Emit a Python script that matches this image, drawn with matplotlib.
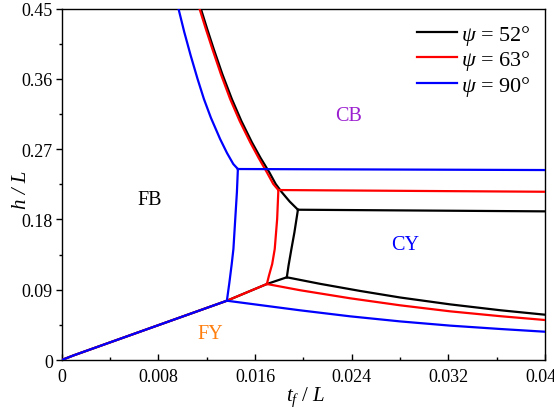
import matplotlib
matplotlib.use("Agg")
import matplotlib.pyplot as plt
from matplotlib.ticker import MultipleLocator, FixedLocator

plt.rcParams['font.family'] = ['Liberation Serif', 'DejaVu Serif']
plt.rcParams['mathtext.fontset'] = 'custom'
plt.rcParams['mathtext.it'] = 'Liberation Serif:italic'
plt.rcParams['mathtext.rm'] = 'Liberation Serif'

# ---- data (t_f/L, h/L) ----
# shared FY boundary (origin to corners)
fy_x = [0.0, 0.0010, 0.01367, 0.01698, 0.01863]
fy_y = [0.0, 0.0060, 0.0759, 0.0973, 0.1059]

# psi = 52 deg (black)
b_up_x = [0.01151, 0.01204, 0.01258, 0.01329, 0.01408, 0.01487, 0.01574, 0.01646,
          0.01718, 0.01771, 0.01822, 0.01887, 0.01955]
b_up_y = [0.45, 0.4237, 0.3981, 0.3661, 0.3341, 0.3059, 0.2787, 0.2586,
          0.2403, 0.2253, 0.2147, 0.2028, 0.1924]
b_hor_x = [0.01955, 0.0400]
b_hor_y = [0.1924, 0.1903]
b_ver_x = [0.01955, 0.01926, 0.01901, 0.01877, 0.01863]
b_ver_y = [0.1924, 0.1635, 0.1421, 0.1207, 0.1059]
b_low_x = [0.01863, 0.02139, 0.0247, 0.02802, 0.03216, 0.0363, 0.0400]
b_low_y = [0.1059, 0.0975, 0.0884, 0.0800, 0.0712, 0.0637, 0.0580]

# psi = 63 deg (red)
r_up_x = [0.0114, 0.01193, 0.01247, 0.01317, 0.01394, 0.01473, 0.0156, 0.0163,
          0.01698, 0.01751, 0.01793]
r_up_y = [0.45, 0.4237, 0.3981, 0.3661, 0.3341, 0.3059, 0.2787, 0.2586,
          0.2403, 0.2253, 0.2176]
r_hor_x = [0.01793, 0.0400]
r_hor_y = [0.2176, 0.2154]
r_ver_x = [0.01793, 0.01783, 0.01763, 0.01742, 0.01715, 0.01698]
r_ver_y = [0.2176, 0.1805, 0.1421, 0.1229, 0.1079, 0.0973]
r_low_x = [0.01698, 0.01974, 0.02388, 0.02802, 0.03216, 0.0363, 0.0400]
r_low_y = [0.0973, 0.0893, 0.0790, 0.0700, 0.0623, 0.0561, 0.0512]

# psi = 90 deg (blue)
u_up_x = [0.00966, 0.01014, 0.01067, 0.01124, 0.01177, 0.01235, 0.01311, 0.01368,
          0.0142, 0.01458]
u_up_y = [0.45, 0.42, 0.39, 0.36, 0.3341, 0.31, 0.2829, 0.265,
          0.2509, 0.2445]
u_hor_x = [0.01458, 0.0400]
u_hor_y = [0.2445, 0.2432]
u_ver_x = [0.01458, 0.0145, 0.01436, 0.01421, 0.01407, 0.01388, 0.01367]
u_ver_y = [0.2445, 0.2150, 0.1800, 0.1421, 0.1229, 0.0995, 0.0759]
u_low_x = [0.01367, 0.01643, 0.01974, 0.02388, 0.02802, 0.03216, 0.0363, 0.0400]
u_low_y = [0.0759, 0.0703, 0.0636, 0.0559, 0.0494, 0.0440, 0.0397, 0.0362]

labels = [r'$\psi$ = 52°', r'$\psi$ = 63°', r'$\psi$ = 90°']
colors = ['black', '#ff0000', '#0000ff']

regions = ['FB', 'CB', 'CY', 'FY']
region_x = [0.00731, 0.0237, 0.02843, 0.01228]
region_y = [0.206, 0.3136, 0.1485, 0.0333]
region_c = ['black', '#9b1fd0', '#0000ff', '#ff7f0e']

fig = plt.figure(figsize=(5.54, 4.10), dpi=100)
ax = fig.add_axes([0.1114, 0.1195, 0.8724, 0.8573])

lw = 1.6
sets = [
    (b_up_x, b_up_y, b_hor_x, b_hor_y, b_ver_x, b_ver_y, b_low_x, b_low_y, 4),
    (r_up_x, r_up_y, r_hor_x, r_hor_y, r_ver_x, r_ver_y, r_low_x, r_low_y, 3),
    (u_up_x, u_up_y, u_hor_x, u_hor_y, u_ver_x, u_ver_y, u_low_x, u_low_y, 2),
]
for i, (ux, uy, hx, hy, vx, vy, lx, ly, nfy) in enumerate(sets):
    c = colors[i]
    kw = dict(color=c, lw=lw, zorder=2 + i, solid_joinstyle='round')
    ax.plot(ux, uy, label=labels[i], **kw)
    ax.plot(hx, hy, **kw)
    ax.plot(vx, vy, **kw)
    ax.plot(lx, ly, **kw)
    ax.plot(fy_x[:nfy + 1], fy_y[:nfy + 1], **kw)

for t, x, y, c in zip(regions, region_x, region_y, region_c):
    ax.text(x, y, t, color=c, fontsize=14.5, ha='center', va='center')

ax.set_xlim(0, 0.040)
ax.set_ylim(0, 0.45)
ax.xaxis.set_major_locator(FixedLocator([0, 0.008, 0.016, 0.024, 0.032, 0.040]))
ax.xaxis.set_minor_locator(MultipleLocator(0.004))
ax.yaxis.set_major_locator(FixedLocator([0, 0.09, 0.18, 0.27, 0.36, 0.45]))
ax.yaxis.set_minor_locator(MultipleLocator(0.045))
ax.set_xticklabels(['0', '0.008', '0.016', '0.024', '0.032', '0.040'])
ax.set_yticklabels(['0', '0.09', '0.18', '0.27', '0.36', '0.45'])
ax.tick_params(axis='x', which='both', direction='in', top=False, labelsize=13, pad=6)
ax.tick_params(axis='y', which='both', direction='out', right=False, labelsize=13, pad=2)
ax.tick_params(which='major', length=4.3, width=1)
ax.tick_params(which='minor', length=2.3, width=1)
for s in ax.spines.values():
    s.set_linewidth(1.0)

ax.set_xlabel(r'$t_f$ / $L$', fontsize=15)
ax.set_ylabel('h / L', fontsize=15, fontstyle='italic')
ax.xaxis.set_label_coords(0.504, -0.069)
ax.yaxis.set_label_coords(-0.064, 0.486)

leg = ax.legend(loc='upper left', bbox_to_anchor=(0.735, 0.959), fontsize=16,
                frameon=False, borderaxespad=0, borderpad=0, handlelength=1.8,
                handletextpad=0.2, labelspacing=0.06)

fig.savefig('out.png', dpi=100)
